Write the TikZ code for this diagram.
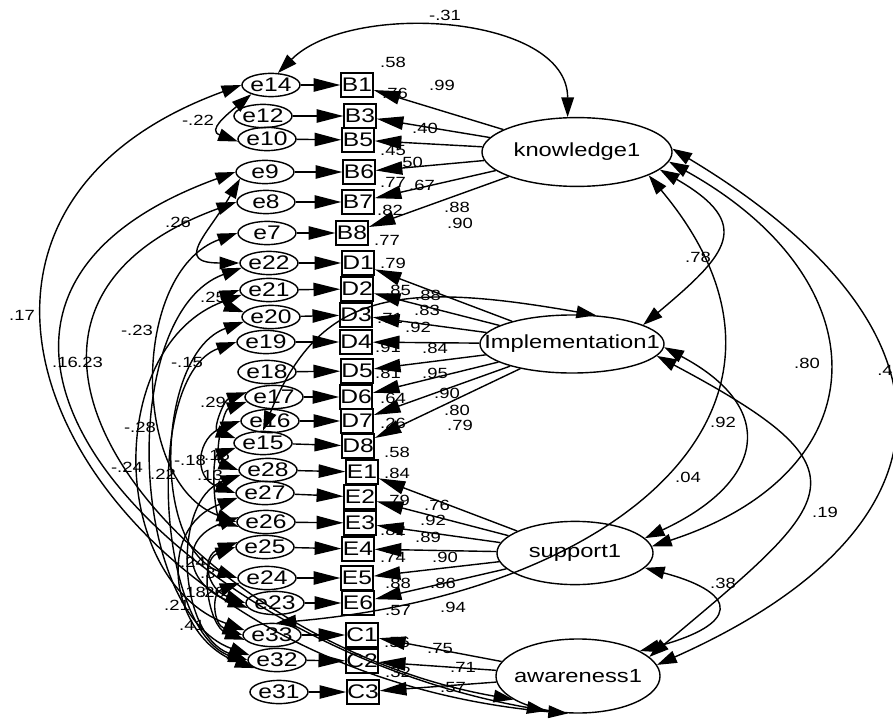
\documentclass[tikz,border=0pt]{standalone}
\usepackage{fontspec}
\setmainfont{Liberation Sans}[FakeStretch=1.25]
\usetikzlibrary{arrows.meta,shapes.geometric}

\newcommand{\latname}[1]{\makebox[0pt]{#1}}

\tikzset{
  err/.style={ellipse, draw, line width=1pt, inner sep=0pt,
    minimum width=1.45cm, minimum height=0.58cm, font=\fontsize{14}{14}\selectfont},
  obs/.style={rectangle, draw, line width=1.5pt, inner sep=0pt,
    minimum width=0.78cm, minimum height=0.58cm, font=\fontsize{14}{14}\selectfont},
  lat/.style={ellipse, draw, line width=1pt, inner sep=0pt,
    font=\fontsize{13.5}{13.5}\selectfont},
  est/.style={inner sep=0pt, font=\fontsize{10.5}{10.5}\selectfont},
  reg/.style={-{Triangle[length=19pt,width=9.5pt]}, line width=1pt},
  cov/.style={{Triangle[length=14pt,width=9pt]}-{Triangle[length=14pt,width=9pt]}, line width=1pt},
}

\begin{document}
\begin{tikzpicture}[x=0.025cm, y=0.025cm]
  \useasboundingbox (0,0) rectangle (893,-722);

  % error terms
  \node[err] (e14) at (271,-85)  {e14};
  \node[err] (e12) at (263,-116) {e12};
  \node[err] (e10) at (267,-139) {e10};
  \node[err] (e9)  at (265,-172) {e9};
  \node[err] (e8)  at (266,-202) {e8};
  \node[err] (e7)  at (267,-233) {e7};
  \node[err] (e22) at (269,-263) {e22};
  \node[err] (e21) at (269,-290) {e21};
  \node[err] (e20) at (271,-317) {e20};
  \node[err] (e19) at (266,-342) {e19};
  \node[err] (e18) at (267,-372) {e18};
  \node[err] (e17) at (274,-397) {e17};
  \node[err] (e16) at (270,-421) {e16};
  \node[err] (e15) at (263,-443) {e15};
  \node[err] (e28) at (268,-470) {e28};
  \node[err] (e27) at (265,-493) {e27};
  \node[err] (e26) at (266,-522) {e26};
  \node[err] (e25) at (265,-547) {e25};
  \node[err] (e24) at (267,-578) {e24};
  \node[err] (e23) at (275,-603) {e23};
  \node[err] (e33) at (272,-635) {e33};
  \node[err] (e32) at (277,-660) {e32};
  \node[err] (e31) at (279,-692) {e31};

  % indicators
  \node[obs] (B1) at (357,-85)  {B1};
  \node[obs] (B3) at (360,-116) {B3};
  \node[obs] (B5) at (358,-140) {B5};
  \node[obs] (B6) at (359,-172) {B6};
  \node[obs] (B7) at (358,-202) {B7};
  \node[obs] (B8) at (352,-233) {B8};
  \node[obs] (D1) at (358,-263) {D1};
  \node[obs] (D2) at (357,-289) {D2};
  \node[obs] (D3) at (356,-315) {D3};
  \node[obs] (D4) at (356,-342) {D4};
  \node[obs] (D5) at (357,-371) {D5};
  \node[obs] (D6) at (356,-397) {D6};
  \node[obs] (D7) at (357,-421) {D7};
  \node[obs] (D8) at (358,-446) {D8};
  \node[obs] (E1) at (362,-472) {E1};
  \node[obs] (E2) at (360,-497) {E2};
  \node[obs] (E3) at (360,-523) {E3};
  \node[obs] (E4) at (358,-549) {E4};
  \node[obs] (E5) at (357,-578) {E5};
  \node[obs] (E6) at (358,-603) {E6};
  \node[obs] (C1) at (362,-635) {C1};
  \node[obs] (C2) at (362,-661) {C2};
  \node[obs] (C3) at (363,-692) {C3};

  % latent factors
  \node[lat, minimum width=4.75cm, minimum height=1.72cm] (k) at (577,-152) {\latname{knowledge1}};
  \node[lat, minimum width=4.6cm, minimum height=1.45cm]  (I) at (572,-344) {\latname{Implementation1}};
  \node[lat, minimum width=3.9cm, minimum height=1.58cm]  (s) at (575,-553) {\latname{support1}};
  \node[lat, minimum width=4.1cm, minimum height=1.85cm]  (a) at (578,-676) {\latname{awareness1}};

  % errors -> indicators
  \path[reg] (e14) edge (B1)  (e12) edge (B3)  (e10) edge (B5)
             (e9)  edge (B6)  (e8)  edge (B7)  (e7)  edge (B8)
             (e22) edge (D1)  (e21) edge (D2)  (e20) edge (D3)
             (e19) edge (D4)  (e18) edge (D5)  (e17) edge (D6)
             (e16) edge (D7)  (e15) edge (D8)
             (e28) edge (E1)  (e27) edge (E2)  (e26) edge (E3)
             (e25) edge (E4)  (e24) edge (E5)  (e23) edge (E6)
             (e33) edge (C1)  (e32) edge (C2)  (e31) edge (C3);

  % factors -> indicators
  \path[reg] (k) edge (B1) edge (B3) edge (B5) edge (B6) edge (B7) edge (B8)
             (I) edge (D1) edge (D2) edge (D3) edge (D4)
                 edge (D5) edge (D6) edge (D7) edge (D8)
             (s) edge (E1) edge (E2) edge (E3) edge (E4) edge (E5) edge (E6)
             (a) edge (C1) edge (C2) edge (C3);

  % covariances, factors
  \path[cov]
    (k.105) edge[out=90, in=45, looseness=0.9]                     (e14.60)
    (k.-12) edge[out=-30, in=40, looseness=1.8]                    (I.15)
    (k.-6)  edge[out=-29, in=18, looseness=1.62]                   (s.5)
    (k.2)   edge[out=-31, in=24, looseness=1.7]                    (a.8)
    (I.-2)  edge[out=-28, in=25, looseness=1.75]                   (s.12)
    (I.-8)  edge[out=-28, in=40, looseness=2.1]                    (a.15)
    (s.-12) edge[out=-15, in=15, looseness=3.1]                    (a.22)
    (k.-18) edge[out=-50, in=5, out looseness=1.31, in looseness=1.53] (e33.70)
    (I.50)  edge[out=170, in=68, out looseness=1.45, in looseness=1.09] (e15.north);

  % covariances, errors
  \path[cov]
    (e14.205)  edge[out=220, in=160, looseness=1.7]  (e10.185)
    (e14.west) edge[out=200, in=175, out looseness=1.5, in looseness=1.75]  (a.255)
    (e9.west)  edge[out=200, in=170, out looseness=1.65, in looseness=1.56] (a.228)
    (e8.west)  edge[out=200, in=170, out looseness=1.53, in looseness=1.49] (a.200)
    (e9.195)   edge[out=240, in=180, looseness=2]    (e22.west)
    (e21.west) edge[out=200, in=160, looseness=2.3]  (e20.170)
    (e7.west)  edge[out=200, in=160, looseness=1]    (e26.west)
    (e22.190)  edge[out=200, in=160, looseness=0.86] (e32.170)
    (e20.190)  edge[out=200, in=160, looseness=0.92] (e24.west)
    (e17.170)  edge[out=200, in=160, looseness=1.33] (e15.170)
    (e16.west) edge[out=200, in=160, looseness=1.63] (e27.west)
    (e17.190)  edge[out=200, in=160, looseness=0.97] (e28.west)
    (e15.190)  edge[out=200, in=160, looseness=0.85] (e26.190)
    (e21.190)  edge[out=200, in=160, looseness=1.11] (e33.170)
    (e19.west) edge[out=200, in=160, looseness=0.78] (e32.185)
    (e25.170)  edge[out=200, in=160, looseness=1.7]  (e23.west)
    (e24.190)  edge[out=200, in=160, looseness=1.5]  (e33.west)
    (e26.170)  edge[out=200, in=160, looseness=1.83] (e23.190)
    (e25.west) edge[out=200, in=160, looseness=1.07] (e33.190)
    (e27.190)  edge[out=200, in=160, looseness=1.33] (e32.200)
    (e28.190)  edge[out=200, in=160, looseness=1.02] (e32.west);

  % squared multiple correlations
  \node[est] (r-B1) at (393,-62)  {.58};
  \node[est] (r-B3) at (395,-93)  {.76};
  \node[est] (r-B6) at (393,-150) {.45};
  \node[est] (r-B7) at (393,-182) {.77};
  \node[est] (r-B8) at (390,-210) {.82};
  \node[est] (r-D1) at (387,-240) {.77};
  \node[est] (r-D2) at (393,-263) {.79};
  \node[est] (r-D3) at (398,-290) {.85};
  \node[est] (r-D4) at (390,-318) {.71};
  \node[est] (r-D5) at (388,-347) {.91};
  \node[est] (r-D6) at (388,-373) {.81};
  \node[est] (r-D7) at (393,-398) {.64};
  \node[est] (r-D8) at (393,-423) {.26};
  \node[est] (r-E1) at (397,-452) {.58};
  \node[est] (r-E2) at (397,-473) {.84};
  \node[est] (r-E3) at (397,-500) {.79};
  \node[est] (r-E4) at (393,-530) {.82};
  \node[est] (r-E5) at (393,-557) {.74};
  \node[est] (r-E6) at (398,-583) {.88};
  \node[est] (r-C1) at (398,-610) {.57};
  \node[est] (r-C2) at (397,-642) {.56};
  \node[est] (r-C3) at (398,-672) {.32};

  % loadings
  \node[est] (w-B1) at (442,-85)  {.99};
  \node[est] (w-B3) at (425,-128) {.40};
  \node[est] (w-B5) at (410,-162) {.50};
  \node[est] (w-B6) at (422,-185) {.67};
  \node[est] (w-B7) at (457,-207) {.88};
  \node[est] (w-B8) at (460,-223) {.90};
  \node[est] (w-D1) at (428,-295) {.88};
  \node[est] (w-D2) at (427,-310) {.83};
  \node[est] (w-D3) at (418,-327) {.92};
  \node[est] (w-D4) at (435,-348) {.84};
  \node[est] (w-D5) at (435,-373) {.95};
  \node[est] (w-D6) at (447,-393) {.90};
  \node[est] (w-D7) at (457,-410) {.80};
  \node[est] (w-D8) at (460,-425) {.79};
  \node[est] (w-E1) at (437,-505) {.76};
  \node[est] (w-E2) at (433,-520) {.92};
  \node[est] (w-E3) at (428,-537) {.89};
  \node[est] (w-E4) at (445,-557) {.90};
  \node[est] (w-E5) at (443,-583) {.86};
  \node[est] (w-E6) at (453,-607) {.94};
  \node[est] (w-C1) at (440,-648) {.75};
  \node[est] (w-C2) at (463,-667) {.71};
  \node[est] (w-C3) at (453,-687) {.57};

  % covariance estimates
  \node[est] (c-ke14)   at (445,-15)  {-.31};
  \node[est] (c-e14e10) at (198,-120) {-.22};
  \node[est] (c-e9e22)  at (178,-222) {.26};
  \node[est] (c-e14a)   at (22,-315)  {.17};
  \node[est] (c-e21e20) at (213,-297) {.25};
  \node[est] (c-e7e26)  at (137,-330) {-.23};
  \node[est] (c-e9a)    at (65,-362)  {.16};
  \node[est] (c-e8a)    at (90,-362)  {.23};
  \node[est] (c-e20e24) at (187,-362) {-.15};
  \node[est] (c-e17e15) at (213,-402) {.29};
  \node[est] (c-e22e32) at (140,-427) {-.28};
  \node[est] (c-e16e27) at (190,-460) {-.18};
  \node[est] (c-e17e28) at (217,-455) {.15};
  \node[est] (c-e21e33) at (127,-467) {-.24};
  \node[est] (c-e19e32) at (163,-474) {.22};
  \node[est] (c-e15e26) at (210,-475) {.13};
  \node[est] (c-e25e23) at (190,-562) {-.24};
  \node[est] (c-e24e33) at (213,-573) {.31};
  \node[est] (c-e26e23) at (193,-592) {.18};
  \node[est] (c-e25e33) at (212,-592) {.26};
  \node[est] (c-e27e32) at (177,-605) {.21};
  \node[est] (c-e28e32) at (192,-625) {.41};
  \node[est] (c-kI)     at (698,-257) {.78};
  \node[est] (c-ks)     at (807,-363) {.80};
  \node[est] (c-ka)     at (885,-370) {.4};
  \node[est] (c-Is)     at (723,-422) {.92};
  \node[est] (c-ke33)   at (688,-477) {.04};
  \node[est] (c-Ia)     at (825,-512) {.19};
  \node[est] (c-sa)     at (723,-583) {.38};
\end{tikzpicture}
\end{document}
